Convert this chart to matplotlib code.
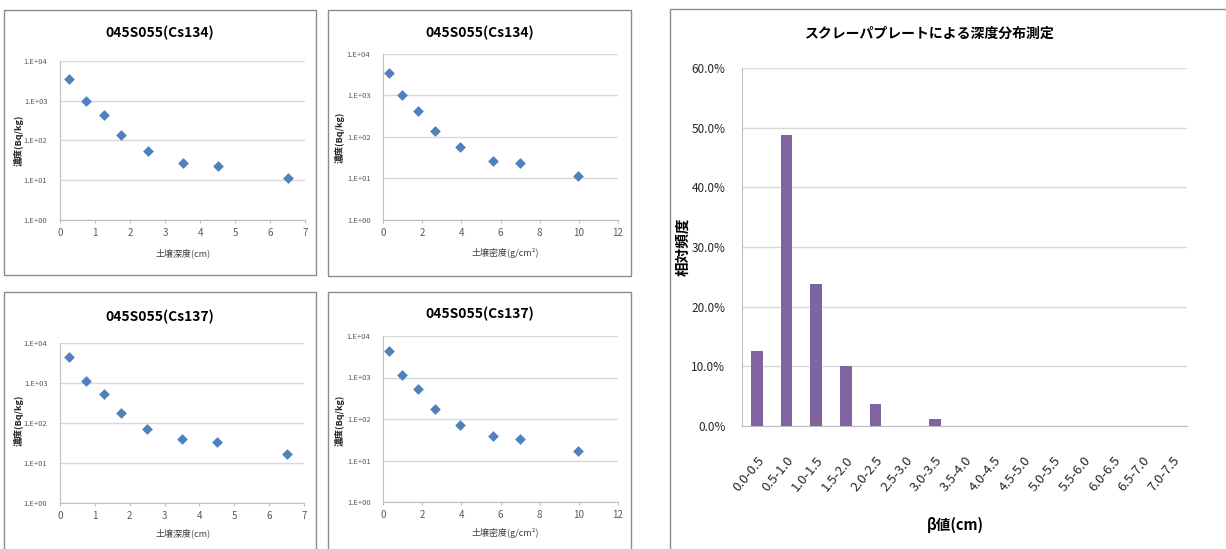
import matplotlib
matplotlib.use("Agg")
import matplotlib.pyplot as plt
from matplotlib.patches import Rectangle
from matplotlib.ticker import FixedLocator, FuncFormatter, PercentFormatter
import numpy as np

plt.rcParams['font.family'] = ['Noto Sans CJK JP', 'DejaVu Sans']

# 測定データ (045S055)
depth_cm = [0.25, 0.75, 1.25, 1.75, 2.5, 3.5, 4.5, 6.5]
mass_depth = [0.3, 0.97, 1.8, 2.65, 3.92, 5.6, 7.0, 9.95]
cs134 = [3470, 1000, 427, 139, 56, 27, 23, 11.7]
cs137 = [4470, 1140, 525, 174, 72, 39, 33, 17]

# β値の頻度分布
beta_bins = ['0.0-0.5', '0.5-1.0', '1.0-1.5', '1.5-2.0', '2.0-2.5', '2.5-3.0',
             '3.0-3.5', '3.5-4.0', '4.0-4.5', '4.5-5.0', '5.0-5.5', '5.5-6.0',
             '6.0-6.5', '6.5-7.0', '7.0-7.5']
beta_freq = [0.125, 0.4875, 0.2375, 0.100, 0.0375, 0.0, 0.0125,
             0.0, 0.0, 0.0, 0.0, 0.0, 0.0, 0.0, 0.0]

W, H = 1226, 549
fig = plt.figure(figsize=(W / 100, H / 100), dpi=100)
fig.patch.set_facecolor('white')


def rect(l, t, r, b):
    return [l / W, 1 - b / H, (r - l) / W, (b - t) / H]


def box(l, t, r, b):
    fig.patches.append(Rectangle((l / W, 1 - b / H), (r - l) / W, (b - t) / H,
                                 transform=fig.transFigure, fill=False,
                                 edgecolor='#8c8c8c', linewidth=1.0))


def ftext(x, y, s, **kw):
    fig.text(x / W, 1 - y / H, s, ha='center', va='center', **kw)


grid_c = '#d9d9d9'
axis_c = '#bfbfbf'
tick_c = '#595959'


def scatter_panel(pos, xs, ys, xmax, xstep):
    ax = fig.add_axes(rect(*pos))
    ax.scatter(xs, ys, marker='D', s=30, color='#4f81bd', zorder=3, linewidths=0)
    ax.set_yscale('log')
    ax.set_ylim(1, 1e4)
    ax.set_xlim(0, xmax)
    ax.yaxis.set_major_locator(FixedLocator([1, 10, 100, 1000, 10000]))
    ax.yaxis.set_minor_locator(FixedLocator([]))
    ax.yaxis.set_major_formatter(FuncFormatter(lambda v, p: '1.E+%02d' % round(np.log10(v))))
    ax.set_xticks(np.arange(0, xmax + 0.01, xstep))
    ax.grid(axis='y', color=grid_c, linewidth=1.0)
    ax.set_axisbelow(True)
    for s in ['top', 'right']:
        ax.spines[s].set_visible(False)
    for s in ['left', 'bottom']:
        ax.spines[s].set_color(axis_c)
    ax.tick_params(axis='y', length=0, labelsize=5.5, labelcolor=tick_c, pad=9)
    ax.tick_params(axis='x', length=2, color=axis_c, labelsize=7, labelcolor=tick_c, pad=4)
    return ax


def ylabel_conc(x, y):
    ftext(x, y, '濃度(Bq/kg)', fontsize=6.5, fontweight='bold', rotation=90,
          color='#262626')


# 左上: Cs134 vs 深度
box(4, 10, 316, 275)
scatter_panel((60, 61, 305, 220), depth_cm, cs134, 7, 1)
ftext(160, 33, '045S055(Cs134)', fontsize=10, fontweight='bold')
ftext(183, 253, '土壌深度(cm)', fontsize=6.5, color='#404040')
ylabel_conc(19, 140)

# 中央上: Cs134 vs 質量深度
box(328, 10, 631, 276)
scatter_panel((383, 54, 618, 220), mass_depth, cs134, 12, 2)
ftext(480, 33, '045S055(Cs134)', fontsize=10, fontweight='bold')
ftext(505, 253, '土壌密度(g/cm²)', fontsize=6.5, color='#404040')
ylabel_conc(340, 137)

# 左下: Cs137 vs 深度
box(4, 292, 316, 560)
scatter_panel((60, 343, 304, 503), depth_cm, cs137, 7, 1)
ftext(160, 317, '045S055(Cs137)', fontsize=10, fontweight='bold')
ftext(183, 533, '土壌深度(cm)', fontsize=6.5, color='#404040')
ylabel_conc(19, 420)

# 中央下: Cs137 vs 質量深度
box(328, 292, 631, 560)
scatter_panel((383, 336, 618, 502), mass_depth, cs137, 12, 2)
ftext(480, 314, '045S055(Cs137)', fontsize=10, fontweight='bold')
ftext(505, 533, '土壌密度(g/cm²)', fontsize=6.5, color='#404040')
ylabel_conc(340, 420)

# 右: β値のヒストグラム
box(670, 9, 1240, 560)
ax = fig.add_axes(rect(742, 68, 1187, 426))
x = np.arange(len(beta_bins))
ax.bar(x, beta_freq, width=0.4, color='#8064a2', zorder=3)
ax.set_xlim(-0.5, len(beta_bins) - 0.5)
ax.set_ylim(0, 0.6)
ax.set_yticks(np.arange(0, 0.61, 0.1))
ax.yaxis.set_major_formatter(PercentFormatter(1.0, decimals=1))
ax.set_xticks(x)
ax.set_xticklabels(beta_bins, rotation=50, ha='right', rotation_mode='anchor')
ax.grid(axis='y', color=grid_c, linewidth=1.0)
ax.set_axisbelow(True)
for s in ['top', 'right']:
    ax.spines[s].set_visible(False)
for s in ['left', 'bottom']:
    ax.spines[s].set_color(axis_c)
ax.tick_params(axis='y', length=0, labelsize=8.5, labelcolor='#262626', pad=12)
ax.tick_params(axis='x', length=0, labelsize=9.5, labelcolor='#262626', pad=20)

ftext(930, 34, 'スクレーパプレートによる深度分布測定', fontsize=10, fontweight='bold')
ftext(955, 525, 'β値(cm)', fontsize=10.5, fontweight='bold')
ftext(682, 247, '相対頻度', fontsize=10.5, fontweight='bold', rotation=90)

fig.savefig('out.png', dpi=100, facecolor='white')
